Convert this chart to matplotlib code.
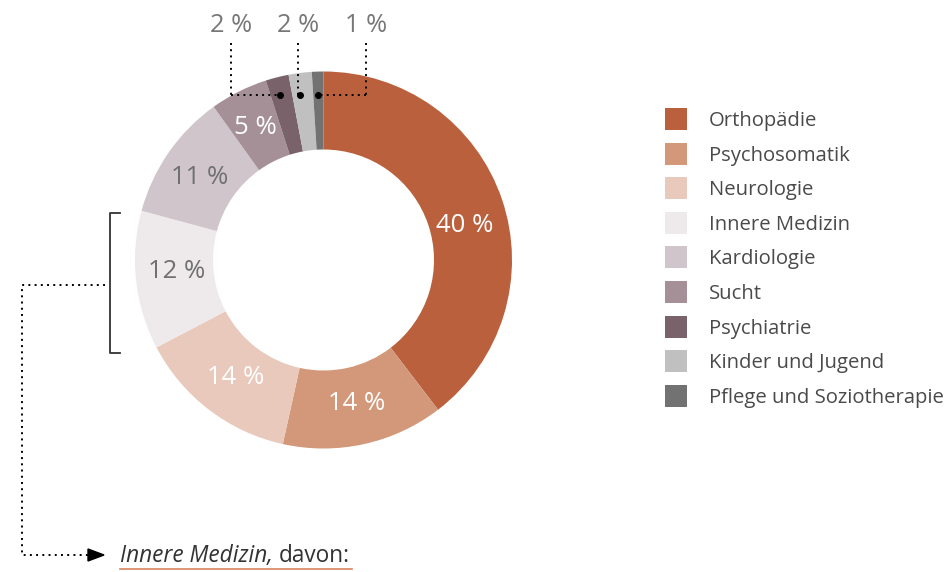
import matplotlib
matplotlib.use("Agg")
import matplotlib.pyplot as plt
from matplotlib.patches import Polygon

categories = ["Orthopädie", "Psychosomatik", "Neurologie", "Innere Medizin",
              "Kardiologie", "Sucht", "Psychiatrie", "Kinder und Jugend",
              "Pflege und Soziotherapie"]
values = [40, 14, 14, 12, 11, 5, 2, 2, 1]
labels = ["40 %", "14 %", "14 %", "12 %", "11 %", "5 %", "2 %", "2 %", "1 %"]
colors = ["#BA603D", "#D39879", "#E8C9BB", "#EEEAEC", "#D0C5CA", "#A49096",
          "#7A626B", "#C0C0C0", "#727272"]
label_colors = ["white", "white", "white", "#707070", "#707070", "white",
                "#777777", "#777777", "#777777"]

plt.rcParams['font.family'] = ['Open Sans', 'DejaVu Sans']
WEIGHT = 'normal'

W, H = 951, 572
fig = plt.figure(figsize=(W / 100, H / 100), dpi=100)
ax = fig.add_axes([0, 0, 1, 1])

def Y(py):
    return H - py

cx, cy, R, w = 323.5, Y(260), 188.5, 78
wedges, _ = ax.pie(values, colors=colors, startangle=90, counterclock=False,
                   center=(cx, cy), radius=R,
                   wedgeprops=dict(width=w, edgecolor='none'), frame=True)
ax.set_xlim(0, W)
ax.set_ylim(0, H)
ax.set_aspect('equal')
ax.axis('off')

# In-ring labels (first six)
in_pos = [(465, 226), (357, 404), (236, 378), (177, 272), (200, 177), (255, 127)]
for i, (px, py) in enumerate(in_pos):
    ax.text(px, Y(py), labels[i], color=label_colors[i], fontsize=18.5,
            ha='center', va='center', fontweight=WEIGHT)

# Top labels with dotted leaders
top_pos = [(231, 280), (298, 300), (366, 318)]
for j, (tx, dx) in enumerate(top_pos):
    i = 6 + j
    ax.text(tx, Y(26), labels[i], color=label_colors[i], fontsize=18.3,
            ha='center', va='center', fontweight=WEIGHT)
    ax.plot([tx, tx], [Y(43), Y(95)], color='black', lw=1.4,
            linestyle=(0, (1, 2.2)))
    if tx != dx:
        ax.plot([tx, dx], [Y(95), Y(95)], color='black', lw=1.4,
                linestyle=(0, (1, 2.2)))
    ax.plot([dx], [Y(95)], 'o', color='black', ms=4)

# Bracket around Innere Medizin
ax.plot([120, 110, 110, 120], [Y(213), Y(213), Y(353), Y(353)], color='#333333', lw=1.3)
ax.plot([105, 22, 22, 90], [Y(285), Y(285), Y(555), Y(555)], color='black',
        lw=1.4, linestyle=(0, (1, 2.2)))
ax.add_patch(Polygon([[88, Y(549)], [88, Y(561)], [104, Y(555)]], closed=True,
                     color='black'))
t1 = ax.text(120, Y(556), "Innere Medizin, ", fontsize=16.3, style='italic',
             ha='left', va='center', color='#333333', fontweight=WEIGHT)
fig.canvas.draw()
bb = t1.get_window_extent(renderer=fig.canvas.get_renderer())
ax.text(bb.x1, Y(556), "davon:", fontsize=16.3, ha='left', va='center',
        color='#333333', fontweight=WEIGHT)
ax.plot([120, 352], [Y(569), Y(569)], color='#D9835F', lw=1.2)

# Legend
ly0, dy = 119, 34.6
for i, name in enumerate(categories):
    yy = Y(ly0 + i * dy)
    ax.add_patch(plt.Rectangle((665, yy - 11), 22, 22, color=colors[i], lw=0))
    ax.text(709, yy - 2, name, fontsize=14.6, ha='left', va='center',
            color='#4a4a4a', fontweight=WEIGHT)

fig.savefig("out.png", dpi=100)
